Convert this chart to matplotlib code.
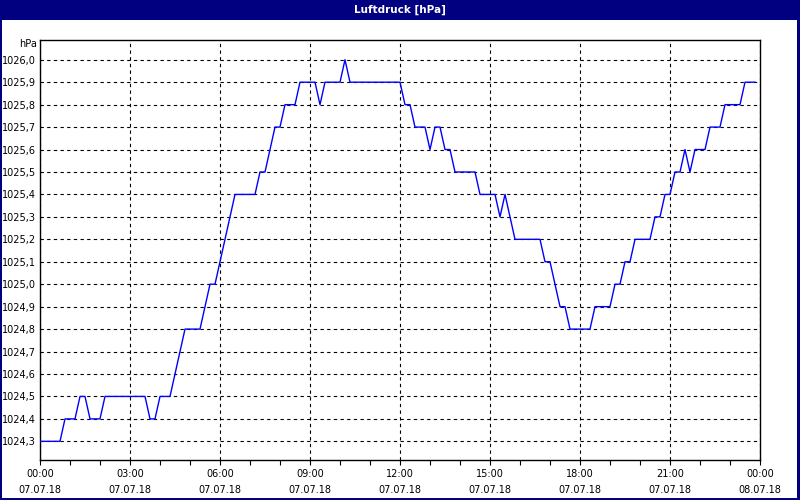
import matplotlib
matplotlib.use("Agg")
import matplotlib.pyplot as plt
from matplotlib.patches import Rectangle
from matplotlib.ticker import FixedLocator, MultipleLocator

title = "Luftdruck [hPa]"
unit = "hPa"
# sample times in minutes since 07.07.18 00:00 (10-minute readings)
minutes = list(range(0, 1440, 10))
pressure = [
    1024.3, 1024.3, 1024.3, 1024.3, 1024.3, 1024.4, 1024.4, 1024.4, 1024.5, 1024.5,
    1024.4, 1024.4, 1024.4, 1024.5, 1024.5, 1024.5, 1024.5, 1024.5, 1024.5, 1024.5,
    1024.5, 1024.5, 1024.4, 1024.4, 1024.5, 1024.5, 1024.5, 1024.6, 1024.7, 1024.8,
    1024.8, 1024.8, 1024.8, 1024.9, 1025.0, 1025.0, 1025.1, 1025.2, 1025.3, 1025.4,
    1025.4, 1025.4, 1025.4, 1025.4, 1025.5, 1025.5, 1025.6, 1025.7, 1025.7, 1025.8,
    1025.8, 1025.8, 1025.9, 1025.9, 1025.9, 1025.9, 1025.8, 1025.9, 1025.9, 1025.9,
    1025.9, 1026.0, 1025.9, 1025.9, 1025.9, 1025.9, 1025.9, 1025.9, 1025.9, 1025.9,
    1025.9, 1025.9, 1025.9, 1025.8, 1025.8, 1025.7, 1025.7, 1025.7, 1025.6, 1025.7,
    1025.7, 1025.6, 1025.6, 1025.5, 1025.5, 1025.5, 1025.5, 1025.5, 1025.4, 1025.4,
    1025.4, 1025.4, 1025.3, 1025.4, 1025.3, 1025.2, 1025.2, 1025.2, 1025.2, 1025.2,
    1025.2, 1025.1, 1025.1, 1025.0, 1024.9, 1024.9, 1024.8, 1024.8, 1024.8, 1024.8,
    1024.8, 1024.9, 1024.9, 1024.9, 1024.9, 1025.0, 1025.0, 1025.1, 1025.1, 1025.2,
    1025.2, 1025.2, 1025.2, 1025.3, 1025.3, 1025.4, 1025.4, 1025.5, 1025.5, 1025.6,
    1025.5, 1025.6, 1025.6, 1025.6, 1025.7, 1025.7, 1025.7, 1025.8, 1025.8, 1025.8,
    1025.8, 1025.9, 1025.9, 1025.9,
]
x_tick_hours = [0, 3, 6, 9, 12, 15, 18, 21, 24]
x_tick_labels = ["00:00\n07.07.18", "03:00\n07.07.18", "06:00\n07.07.18",
                 "09:00\n07.07.18", "12:00\n07.07.18", "15:00\n07.07.18",
                 "18:00\n07.07.18", "21:00\n07.07.18", "00:00\n08.07.18"]
y_ticks = [1024.3, 1024.4, 1024.5, 1024.6, 1024.7, 1024.8, 1024.9, 1025.0, 1025.1,
           1025.2, 1025.3, 1025.4, 1025.5, 1025.6, 1025.7, 1025.8, 1025.9, 1026.0]

navy = "#000080"
plt.rcParams["font.family"] = ["DejaVu Sans"]

fig = plt.figure(figsize=(8, 5), dpi=100)
fig.patch.set_facecolor("white")

W, H = 800.0, 500.0
def px_rect(x0, y0, x1, y1):
    # pixel coords from top-left -> figure fraction rectangle
    return Rectangle((x0 / W, 1 - y1 / H), (x1 - x0) / W, (y1 - y0) / H,
                     transform=fig.transFigure, facecolor=navy,
                     edgecolor="none", zorder=0)

# title bar and window border
for r in [px_rect(0, 0, 800, 20), px_rect(0, 0, 2, 500), px_rect(797, 0, 800.5, 500),
          px_rect(0, 498, 800, 500.5)]:
    fig.patches.append(r)
fig.text(0.5, 0.981, title, color="white", fontsize=7.5, fontweight="bold",
         ha="center", va="center")

ax = fig.add_axes([0.05, 0.08, 0.90, 0.84])
hours = [m / 60 for m in minutes]
ax.plot(hours, pressure, color="#0000FF", linewidth=1.0, zorder=3)

ax.set_xlim(0, 24)
ax.set_ylim(1024.2168, 1026.088)
ax.xaxis.set_major_locator(FixedLocator(x_tick_hours))
ax.xaxis.set_minor_locator(MultipleLocator(1))
ax.set_xticklabels(x_tick_labels, fontsize=7, linespacing=1.75)
ax.set_yticks(y_ticks)
ax.set_yticklabels([f"{v:.1f}".replace(".", ",") for v in y_ticks], fontsize=7)

ax.tick_params(axis="x", which="both", direction="out", length=3.5, width=0.8,
               pad=3, color="black")
ax.tick_params(axis="y", which="both", length=0, pad=3)

ax.grid(True, which="major", color="black", linestyle=(0, (3, 3)), linewidth=0.8)
for s in ax.spines.values():
    s.set_linewidth(1.0)
    s.set_color("black")

fig.text(0.046, 0.912, unit, fontsize=7, ha="right", va="center")

fig.savefig("out.png", dpi=100)
